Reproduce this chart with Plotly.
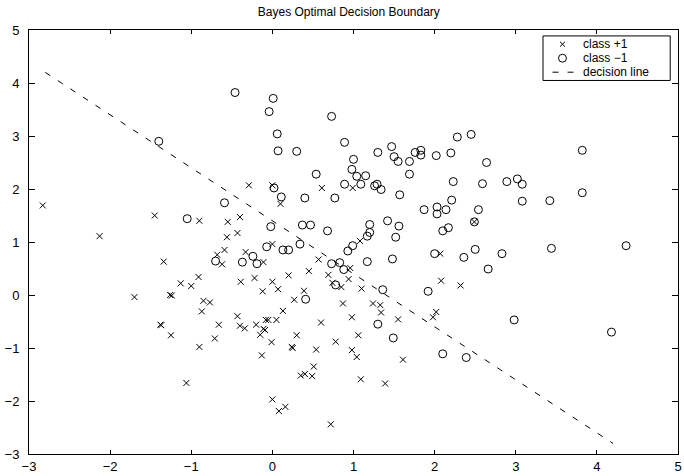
import plotly.graph_objects as go

# class +1 (crosses)
pos_x = [-2.83, -2.13, -1.45, -0.90, -0.55, -0.40, -0.56, -0.43, -1.34, -0.59,
         -0.68, -0.62, -0.33, -0.91, -1.13, -1.00, -0.39, -1.70, -1.26, -1.24,
         -0.85, -0.77, -0.87, -0.43, -1.38, -1.37, -0.66, -0.40, -0.34, -0.29,
         0.00, 0.10, 0.00, -0.11, -0.22, 0.00, -0.12, 0.07, 0.20, 0.13,
         -0.20, -0.08, -0.05, -0.11, -0.09, -0.15, 0.05, -1.25, -0.71, -0.90,
         -0.01, -0.13, -1.06, 0.00, 0.08, 0.16, 0.60, 0.98, 1.55, 1.98,
         2.02, 0.30, 0.24, 0.25, 0.54, 0.78, 1.06, 0.98, 1.04, 1.61,
         0.51, 0.35, 0.40, 0.49, 1.09, 1.39, 0.72, 0.61, 0.99, 1.08,
         0.57, 0.45, 0.69, 0.96, 0.94, 0.74, 0.85, 1.10, 0.39, 0.27,
         0.87, 1.24, 1.33, 1.34, 2.32, 2.08, 2.07, 2.49]
pos_y = [1.69, 1.11, 1.50, 1.40, 1.38, 1.47, 1.09, 1.17, 0.63, 0.85,
         0.76, 0.58, 0.81, 0.34, 0.22, 0.17, 0.25, -0.04, 0.00, -0.01,
         -0.11, -0.14, -0.31, -0.40, -0.56, -0.57, -0.56, -0.58, -0.63, 2.07,
         2.07, 1.72, 0.96, 0.62, 0.32, 0.25, 0.07, 0.11, 0.37, -0.30,
         -0.56, -0.47, -0.47, -0.64, -0.66, -0.75, -0.47, -0.76, -0.82, -0.98,
         -0.89, -1.14, -1.66, -1.97, -2.19, -2.11, -0.52, -0.42, -0.46, -0.42,
         -0.32, -0.76, -0.98, -1.00, -1.03, -0.88, -0.76, -1.04, -1.17, -1.22,
         -1.35, -1.52, -1.49, -1.53, -1.59, -1.67, -2.44, 2.02, 2.02, 1.02,
         0.67, 0.45, 0.38, 0.51, 0.30, 0.23, 0.15, 0.12, 0.08, -0.09,
         -0.16, -0.16, -0.19, -0.33, 0.18, 0.27, 0.78, 1.38]

# class -1 (circles)
neg_x = [-0.46, -1.40, 0.01, -0.04, 0.73, 0.06, 0.89, 0.07, 0.30, 1.47,
         1.00, 1.30, 1.50, 1.55, 1.76, 1.83, 1.83, 1.69, 2.02, 2.20,
         2.28, 2.45, 0.98, 0.54, 1.04, 1.15, 1.69, 2.64, 3.82, 2.23,
         2.59, 2.89, 3.02, 3.08, 3.82, 2.21, 3.08, 3.42, 2.14, 2.54,
         2.49, 2.17, 2.50, 2.36, 2.83, 2.66, 3.44, 4.36, 2.98, 4.18,
         2.39, 1.87, 2.03, 2.03, 2.10, 2.00, 1.92, 2.10, 0.89, 1.09,
         1.26, 1.29, 1.34, 1.57, 0.77, 0.40, 0.11, 0.37, 0.47, 0.68,
         0.34, 0.13, 0.20, 1.20, 1.20, 1.17, 1.42, 1.56, 1.52, 0.99,
         0.93, 1.17, 1.48, 0.73, 0.83, 0.88, 0.78, 0.41, 1.36, 1.30,
         1.49, 0.02, -0.59, -1.05, -0.02, -0.07, -0.24, -0.70, -0.37, -0.19]
neg_y = [3.82, 2.90, 3.71, 3.46, 3.37, 3.04, 2.88, 2.72, 2.71, 2.80,
         2.56, 2.69, 2.61, 2.52, 2.69, 2.73, 2.64, 2.52, 2.63, 2.68,
         2.98, 3.03, 2.37, 2.28, 2.24, 2.25, 2.28, 2.50, 2.73, 2.14,
         2.10, 2.14, 2.19, 2.09, 1.93, 1.79, 1.77, 1.78, 1.61, 1.61,
         1.38, 1.27, 0.86, 0.71, 0.78, 0.49, 0.88, 0.93, -0.47, -0.70,
         -1.18, 1.61, 1.66, 1.53, 1.21, 0.78, 0.07, -1.11, 2.09, 2.09,
         2.06, 2.09, 1.99, 1.89, 1.83, 1.83, 1.85, 1.32, 1.32, 1.21,
         0.96, 0.85, 0.85, 1.33, 1.18, 1.11, 1.40, 1.30, 1.09, 0.93,
         0.83, 0.63, 0.68, 0.59, 0.61, 0.48, 0.19, -0.08, 0.10, -0.55,
         -0.81, 2.02, 1.74, 1.44, 1.29, 0.91, 0.73, 0.64, 0.62, 0.59]

# decision line y = 1.4 - x
line_x = [-2.8, 4.2]
line_y = [4.2, -2.8]

x_ticks = [-3, -2, -1, 0, 1, 2, 3, 4, 5]
y_ticks = [-3, -2, -1, 0, 1, 2, 3, 4, 5]
tick_text = ["\u22123", "\u22122", "\u22121", "0", "1", "2", "3", "4", "5"]

legend_labels = ["class +1", "class \u22121", "decision line"]

FONT = "Liberation Sans, Arial, Helvetica, sans-serif"

fig = go.Figure()
fig.add_trace(go.Scatter(x=pos_x, y=pos_y, mode="markers", name=legend_labels[0],
                         marker=dict(symbol="x-thin-open", size=6, color="black",
                                     line=dict(width=1, color="black"))))
fig.add_trace(go.Scatter(x=neg_x, y=neg_y, mode="markers", name=legend_labels[1],
                         marker=dict(symbol="circle-open", size=8, color="black",
                                     line=dict(width=1, color="black"))))
fig.add_trace(go.Scatter(x=line_x, y=line_y, mode="lines", name=legend_labels[2],
                         line=dict(color="black", width=1, dash="6px,9px")))

axis_common = dict(showgrid=False, zeroline=False, showline=True, linecolor="black",
                   linewidth=1, mirror="ticks", ticks="inside", tickcolor="black",
                   tickfont=dict(family=FONT, size=13, color="black"))
fig.update_xaxes(range=[-3, 5], tickvals=x_ticks, ticktext=tick_text, ticklen=4,
                 ticklabeloverflow="allow", **axis_common)
fig.update_yaxes(range=[-3, 5], tickvals=y_ticks, ticktext=tick_text, ticklen=6,
                 ticklabelstandoff=6, **axis_common)

# Matlab-style compact legend (box, symbols, labels) in paper coordinates
W, H = 653.0, 429.3          # plot area size in px
def px(dx): return dx / W
def py(dy): return dy / H

box_x0, box_x1, box_y0, box_y1 = 0.792, 0.988, 0.881, 0.986
row_y = [0.9665, 0.9335, 0.9005]
sym_x = 0.822
txt_x = 0.852

shapes = [dict(type="rect", xref="paper", yref="paper", x0=box_x0, x1=box_x1,
               y0=box_y0, y1=box_y1, line=dict(color="black", width=1),
               fillcolor="white", layer="above")]
# cross symbol
shapes += [dict(type="line", xref="paper", yref="paper",
                x0=sym_x - px(2.5), x1=sym_x + px(2.5),
                y0=row_y[0] - py(2.5), y1=row_y[0] + py(2.5),
                line=dict(color="black", width=1), layer="above"),
           dict(type="line", xref="paper", yref="paper",
                x0=sym_x - px(2.5), x1=sym_x + px(2.5),
                y0=row_y[0] + py(2.5), y1=row_y[0] - py(2.5),
                line=dict(color="black", width=1), layer="above")]
# circle symbol
shapes.append(dict(type="circle", xref="paper", yref="paper",
                   x0=sym_x - px(4), x1=sym_x + px(4),
                   y0=row_y[1] - py(4), y1=row_y[1] + py(4),
                   line=dict(color="black", width=1), layer="above"))
# dashed line symbol
shapes.append(dict(type="line", xref="paper", yref="paper",
                   x0=sym_x - px(10), x1=sym_x + px(13),
                   y0=row_y[2], y1=row_y[2],
                   line=dict(color="black", width=1, dash="6px,9px"), layer="above"))

annotations = [dict(xref="paper", yref="paper", x=txt_x, y=yy, text=lab,
                    showarrow=False, xanchor="left", yanchor="middle",
                    borderpad=0,
                    font=dict(family=FONT, size=12, color="black"))
               for yy, lab in zip(row_y, legend_labels)]

fig.update_layout(
    width=684, height=476,
    margin=dict(l=29, r=2, t=30, b=17),
    paper_bgcolor="white", plot_bgcolor="white",
    title=dict(text="Bayes Optimal Decision Boundary", x=0.51, xanchor="center",
               y=1 - 12 / 476, yanchor="middle",
               font=dict(family=FONT, size=12, color="black")),
    showlegend=False,
    shapes=shapes,
    annotations=annotations,
)

fig.write_html("out.html")
